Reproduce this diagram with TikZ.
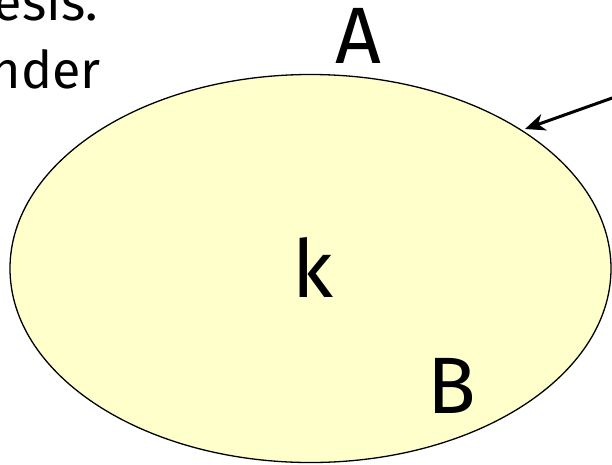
\documentclass[tikz,border=0pt]{standalone}
\usepackage{fontspec}
\setmainfont{Fira Sans}
\usetikzlibrary{shapes.geometric,arrows.meta}
\begin{document}
\begin{tikzpicture}[x=1pt,y=-1pt,
  lbl/.style={inner sep=0pt,font=\fontsize{80}{82}\selectfont},
  txt/.style={inner sep=0pt,font=\fontsize{52}{56}\selectfont},
  conn/.style={draw=black,line width=3pt,-{Stealth[length=20pt,width=17pt,inset=6pt]}}]
\useasboundingbox (0,0) rectangle (612,464);
\clip (0,0) rectangle (612,464);
\node[ellipse,draw=black,line width=1.3pt,fill={rgb,255:red,255;green,255;blue,204},
  minimum width=601pt,minimum height=388pt,inner sep=0pt] (ell) at (310.5,268.5) {};
\node[txt,anchor=base east] (t1) at (98,20) {esis.};
\node[txt,anchor=base east] (t2) at (101,88) {nder};
\node[lbl,anchor=base] (A) at (358,63) {A};
\node[lbl,anchor=base] (k) at (313,297) {k};
\node[lbl,anchor=base] (B) at (452,413) {B};
\coordinate (src) at (615,97);
\coordinate (tip) at (525,129);
\draw[conn] (src) -- (tip);
\end{tikzpicture}
\end{document}
